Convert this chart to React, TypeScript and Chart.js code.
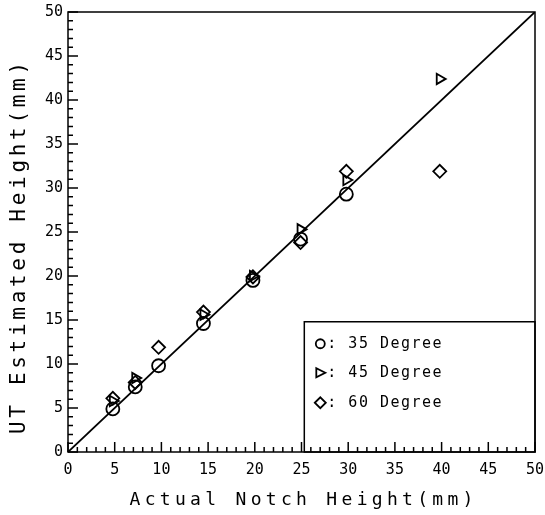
import React, { useEffect, useRef } from "react";
import { Chart, registerables } from "chart.js";

Chart.register(...registerables);

const xTickValues = [0, 5, 10, 15, 20, 25, 30, 35, 40, 45, 50];
const yTickValues = [0, 5, 10, 15, 20, 25, 30, 35, 40, 45, 50];

const deg35X = [4.8, 7.2, 9.7, 14.5, 19.8, 24.9, 29.8];
const deg35Y = [4.9, 7.4, 9.8, 14.6, 19.5, 24.2, 29.3];

const deg45X = [4.8, 7.2, 14.5, 19.8, 24.9, 29.8, 39.8];
const deg45Y = [5.8, 8.4, 15.6, 20.0, 25.3, 30.9, 42.4];

const deg60X = [4.8, 7.2, 9.7, 14.5, 19.8, 24.9, 29.8, 39.8];
const deg60Y = [6.1, 7.9, 11.9, 15.9, 19.9, 23.8, 31.9, 31.9];

const refLineX = [0, 50];
const refLineY = [0, 50];

const legendLabels = [": 35 Degree", ": 45 Degree", ": 60 Degree"];
const xTitle = "Actual Notch Height(mm)";
const yTitle = "UT Estimated Height(mm)";

const MONO = "'DejaVu Sans Mono', monospace";

const zip = (xs: number[], ys: number[]) => xs.map((x, i) => ({ x, y: ys[i] }));

const decorPlugin = {
  id: "decor",
  afterDraw(chart: any) {
    const ctx: CanvasRenderingContext2D = chart.ctx;
    const area = chart.chartArea;
    const xs = chart.scales.x;
    const ys = chart.scales.y;
    ctx.save();
    ctx.strokeStyle = "#000";
    ctx.lineWidth = 1.5;
    // frame
    ctx.strokeRect(area.left, area.top, area.right - area.left, area.bottom - area.top);
    // inward ticks
    ctx.beginPath();
    for (let v = 0; v <= 50; v++) {
      const len = v % 5 === 0 ? 10 : 5;
      const px = xs.getPixelForValue(v);
      ctx.moveTo(px, area.bottom);
      ctx.lineTo(px, area.bottom - len);
      const py = ys.getPixelForValue(v);
      ctx.moveTo(area.left, py);
      ctx.lineTo(area.left + len, py);
    }
    ctx.stroke();

    // legend box
    const bx = xs.getPixelForValue(25.3);
    const by = ys.getPixelForValue(14.8);
    ctx.lineWidth = 1.5;
    ctx.strokeRect(bx, by, area.right - bx, area.bottom - by);

    const rowY = [by + 22, by + 51, by + 81];
    const sx = bx + 16;
    ctx.lineWidth = 1.8;
    // circle
    ctx.beginPath();
    ctx.arc(sx, rowY[0], 4.5, 0, Math.PI * 2);
    ctx.stroke();
    // triangle pointing right
    ctx.beginPath();
    ctx.moveTo(sx + 5, rowY[1]);
    ctx.lineTo(sx - 4, rowY[1] - 4.5);
    ctx.lineTo(sx - 4, rowY[1] + 4.5);
    ctx.closePath();
    ctx.stroke();
    // diamond
    ctx.beginPath();
    ctx.moveTo(sx - 5.5, rowY[2]);
    ctx.lineTo(sx, rowY[2] - 5.5);
    ctx.lineTo(sx + 5.5, rowY[2]);
    ctx.lineTo(sx, rowY[2] + 5.5);
    ctx.closePath();
    ctx.stroke();

    ctx.fillStyle = "#000";
    ctx.font = `15px ${MONO}`;
    (ctx as any).letterSpacing = "1.5px";
    ctx.textAlign = "left";
    ctx.textBaseline = "middle";
    legendLabels.forEach((t, i) => ctx.fillText(t, sx + 7, rowY[i]));

    // x title
    ctx.font = `18px ${MONO}`;
    (ctx as any).letterSpacing = "4.3px";
    ctx.textBaseline = "alphabetic";
    let w = ctx.measureText(xTitle).width - 4.3;
    ctx.fillText(xTitle, (area.left + area.right) / 2 - w / 2, 505);

    // y title
    ctx.font = `21px ${MONO}`;
    (ctx as any).letterSpacing = "3.7px";
    w = ctx.measureText(yTitle).width - 3.7;
    ctx.translate(25, 248);
    ctx.rotate(-Math.PI / 2);
    ctx.fillText(yTitle, -w / 2, 0);
    ctx.restore();
  },
};

export default function App() {
  const ref = useRef<HTMLCanvasElement | null>(null);
  useEffect(() => {
    if (!ref.current) return;
    const chart = new Chart(ref.current, {
      type: "scatter",
      data: {
        datasets: [
          {
            type: "line",
            label: "y = x",
            data: zip(refLineX, refLineY),
            borderColor: "#000",
            borderWidth: 1.8,
            pointRadius: 0,
            fill: false,
          } as any,
          {
            label: "35 Degree",
            data: zip(deg35X, deg35Y),
            pointStyle: "circle",
            pointRadius: 6.5,
            borderColor: "#000",
            backgroundColor: "rgba(0,0,0,0)",
            borderWidth: 1.8,
          },
          {
            label: "45 Degree",
            data: zip(deg45X, deg45Y),
            pointStyle: "triangle",
            rotation: 90,
            pointRadius: 6,
            borderColor: "#000",
            backgroundColor: "rgba(0,0,0,0)",
            borderWidth: 1.8,
          } as any,
          {
            label: "60 Degree",
            data: zip(deg60X, deg60Y),
            pointStyle: "rectRot",
            pointRadius: 6.5,
            borderColor: "#000",
            backgroundColor: "rgba(0,0,0,0)",
            borderWidth: 1.8,
          },
        ],
      },
      options: {
        animation: false,
        responsive: false,
        devicePixelRatio: 1,
        layout: { padding: { top: 12, right: 10, left: 0, bottom: 0 } },
        plugins: {
          legend: { display: false },
          tooltip: { enabled: false },
        },
        scales: {
          x: {
            type: "linear",
            min: 0,
            max: 50,
            afterBuildTicks: (s: any) => {
              s.ticks = xTickValues.map((v) => ({ value: v }));
            },
            afterFit: (s: any) => {
              s.height = 63;
              s.paddingLeft = 0;
              s.paddingRight = 0;
            },
            grid: { display: false, drawTicks: false },
            border: { display: false },
            ticks: {
              color: "#000",
              font: { family: MONO, size: 15 },
              padding: 9,
              maxRotation: 0,
            },
          },
          y: {
            type: "linear",
            min: 0,
            max: 50,
            afterBuildTicks: (s: any) => {
              s.ticks = yTickValues.map((v) => ({ value: v }));
            },
            afterFit: (s: any) => {
              s.width = 68;
              s.paddingTop = 0;
              s.paddingBottom = 0;
            },
            grid: { display: false, drawTicks: false },
            border: { display: false },
            ticks: {
              color: "#000",
              font: { family: MONO, size: 15 },
              padding: 5,
            },
          },
        },
      },
      plugins: [decorPlugin],
    });
    return () => chart.destroy();
  }, []);
  return (
    <div style={{ position: "fixed", left: 0, top: 0, width: 545, height: 515, background: "#fff" }}>
      <canvas ref={ref} width={545} height={515} style={{ width: 545, height: 515 }} />
    </div>
  );
}
